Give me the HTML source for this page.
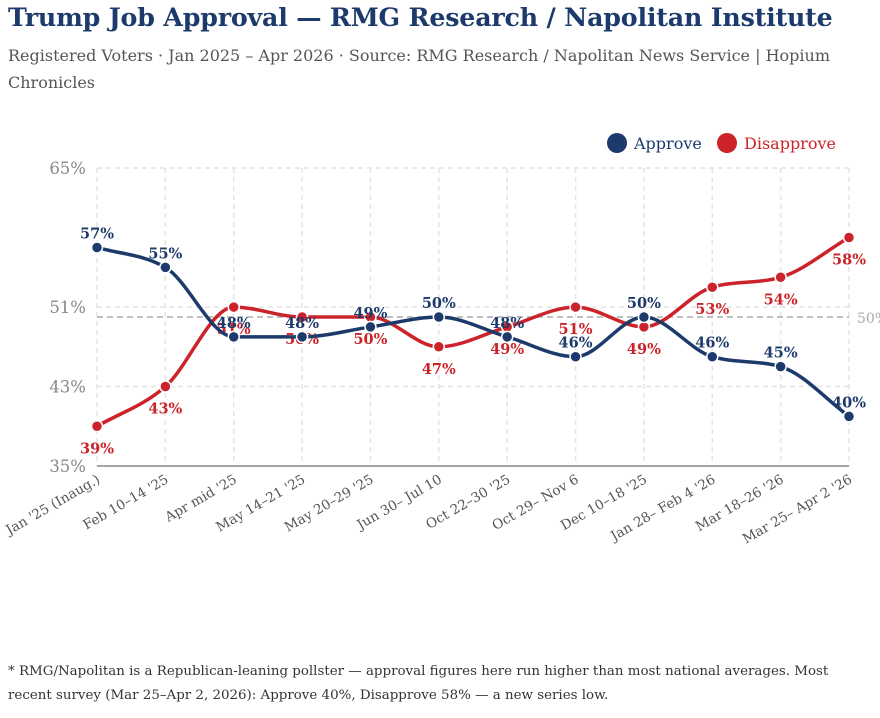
<!DOCTYPE html>
<html><head><meta charset="utf-8"><style>
body{margin:0;width:880px;height:718px;background:#fff;font-family:"DejaVu Serif","Liberation Serif",serif;overflow:hidden;position:relative}
h1{position:absolute;left:8px;top:2px;margin:0;font-size:25.3px;color:#1c3a6b;font-weight:bold;white-space:nowrap;letter-spacing:-0.2px}
.sub{position:absolute;left:8px;top:42px;width:840px;font-size:16px;line-height:27px;color:#555}
.foot{position:absolute;left:8px;top:660px;width:866px;font-size:13.4px;line-height:24px;color:#333}
svg{position:absolute;left:0;top:0}
</style></head><body>
<h1>Trump Job Approval — RMG Research / Napolitan Institute</h1>
<div class="sub">Registered Voters · Jan 2025 – Apr 2026 · Source: RMG Research / Napolitan News Service | Hopium Chronicles</div>
<div class="foot">* RMG/Napolitan is a Republican-leaning pollster — approval figures here run higher than most national averages. Most recent survey (Mar 25–Apr 2, 2026): Approve 40%, Disapprove 58% — a new series low.</div>
<svg id="c" width="880" height="718"></svg>
<script>
const categories=["Jan '25 (Inaug.)","Feb 10–14 '25","Apr mid '25","May 14–21 '25","May 20–29 '25","Jun 30– Jul 10","Oct 22–30 '25","Oct 29– Nov 6","Dec 10–18 '25","Jan 28– Feb 4 '26","Mar 18–26 '26","Mar 25– Apr 2 '26"];
const approve=[57,55,48,48,49,50,48,46,50,46,45,40];
const disapprove=[39,43,51,50,50,47,49,51,49,53,54,58];
const yTicks=[35,43,51,65];
const refValue=50;
const NS="http://www.w3.org/2000/svg",svg=document.getElementById('c');
const x0=97,x1=849,yMin=35,yMax=65,py0=466,py1=168;
const X=i=>x0+(x1-x0)*i/(categories.length-1);
const Y=v=>py0-(v-yMin)/(yMax-yMin)*(py0-py1);
function el(t,a,txt){const e=document.createElementNS(NS,t);for(const k in a)e.setAttribute(k,a[k]);if(txt!=null)e.textContent=txt;svg.appendChild(e);return e;}
yTicks.forEach(t=>{
 if(t!==yMin){const g=el('line',{x1:x0,x2:x1,y1:Y(t),y2:Y(t),stroke:'#e4e4e4','stroke-dasharray':'5,4','stroke-width':1.5});
 
 }
 const l=el('text',{x:86,y:Y(t)+6,'text-anchor':'end','font-size':16.5,fill:'#888'},t+'%');
 
 
});
categories.forEach((c,i)=>{
 const g=el('line',{x1:X(i),x2:X(i),y1:py1,y2:py0,stroke:'#e4e4e4','stroke-dasharray':'5,4','stroke-width':1.5});
 
 
 const t=el('text',{x:X(i)+4,y:py0+16,'text-anchor':'end','font-size':13.5,fill:'#555',transform:`rotate(-30 ${X(i)+4} ${py0+16})`},c);
 
 
});
const ax=el('line',{x1:x0,x2:x1,y1:py0,y2:py0,stroke:'#888','stroke-width':1.5});


const rl=el('line',{x1:x0,x2:x1,y1:Y(refValue),y2:Y(refValue),stroke:'#aaa','stroke-dasharray':'6,4','stroke-width':1.5});


const rt=el('text',{x:857,y:Y(refValue)+6,'font-size':14,fill:'#aaa'},refValue+'%');


function monotone(xs,ys){const n=xs.length,d=[],m=[];for(let i=0;i<n-1;i++)d.push((ys[i+1]-ys[i])/(xs[i+1]-xs[i]));
 m[0]=d[0];m[n-1]=d[n-2];
 for(let i=1;i<n-1;i++){m[i]=0;const h0=xs[i]-xs[i-1],h1=xs[i+1]-xs[i],s0=d[i-1],s1=d[i];
  if(s0*s1>0){m[i]=(s0*h1+s1*h0)/(h0+h1);const mx=2*Math.min(Math.abs(s0),Math.abs(s1));if(Math.abs(m[i])>mx)m[i]=Math.sign(m[i])*mx;}}
 let p=`M${xs[0]},${ys[0]}`;for(let i=0;i<n-1;i++){const h=(xs[i+1]-xs[i])/3;p+=`C${xs[i]+h},${ys[i]+m[i]*h} ${xs[i+1]-h},${ys[i+1]-m[i+1]*h} ${xs[i+1]},${ys[i+1]}`;}return p;}
function series(vals,color,name,dy){
 const xs=vals.map((v,i)=>X(i)),ys=vals.map(Y);
 const p=el('path',{d:monotone(xs,ys),fill:'none',stroke:color,'stroke-width':3.5});
 
 
 vals.forEach((v,i)=>{
  const c=el('circle',{cx:X(i),cy:Y(v),r:5.5,fill:color,stroke:'#fff','stroke-width':1.5});
  
  
  const t=el('text',{x:X(i),y:Y(v)+dy,'text-anchor':'middle','font-size':14.5,'font-weight':'bold',fill:color},v+'%');
  
  
 });
}
series(disapprove,'#cc2229','disapprove',27);
series(approve,'#1c3a6b','approve',-9);
[['Approve','#1c3a6b',617,634],['Disapprove','#cc2229',727,744]].forEach(([n,c,cx,tx])=>{
 const d=el('circle',{cx:cx,cy:143,r:10,fill:c});
 
 
 const t=el('text',{x:tx,y:149,'font-size':16,fill:c},n);
 
 
});
</script>
</body></html>
